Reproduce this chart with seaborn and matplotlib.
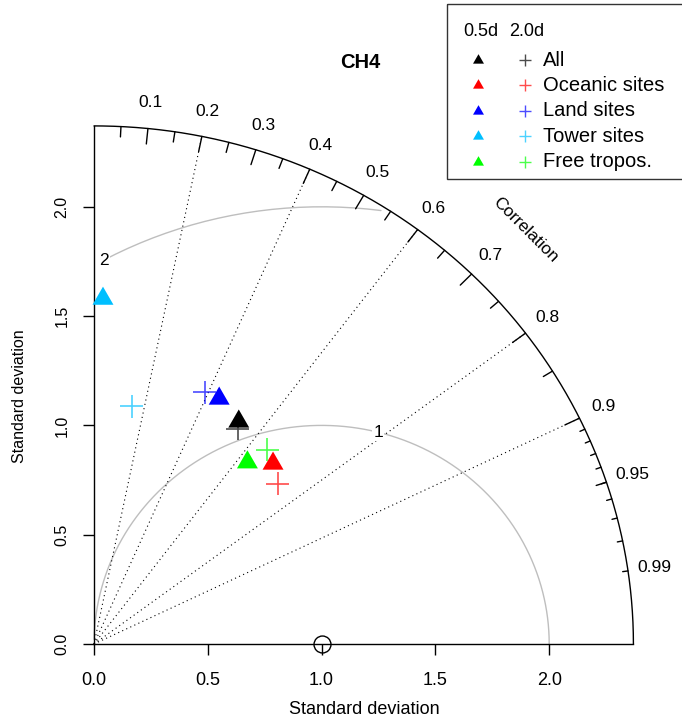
import numpy as np
import pandas as pd
import matplotlib
matplotlib.use("Agg")
import matplotlib.pyplot as plt
from matplotlib.markers import MarkerStyle
from matplotlib.patches import Rectangle
import seaborn as sns

# ---------------- data ----------------
sites = ["All", "Oceanic sites", "Land sites", "Tower sites", "Free tropos."]
site_colors = ["#000000", "#FF0000", "#0000FF", "#00BFFF", "#00FF00"]
sd_05 = [1.20, 1.14, 1.25, 1.58, 1.07]      # normalised std dev, 0.5d
cor_05 = [0.53, 0.69, 0.44, 0.025, 0.63]    # correlation, 0.5d
sd_20 = [1.17, 1.09, 1.25, 1.10, 1.17]      # normalised std dev, 2.0d
cor_20 = [0.54, 0.74, 0.39, 0.15, 0.65]     # correlation, 2.0d
ref_sd = 1.0
max_sd = 2.37
corr_lines = [0.2, 0.4, 0.6, 0.8, 0.9]
corr_labels = [0.1, 0.2, 0.3, 0.4, 0.5, 0.6, 0.7, 0.8, 0.9, 0.95, 0.99]
gamma = [1, 2]
sd_ticks = [0.0, 0.5, 1.0, 1.5, 2.0]
sd_tick_labels = ["0.0", "0.5", "1.0", "1.5", "2.0"]
header = ["0.5d", "2.0d"]

# ---------------- style ----------------
sns.set_theme(style="white", rc={"text.color": "black", "xtick.color": "black",
                                 "ytick.color": "black", "axes.edgecolor": "black"})
plt.rcParams["font.family"] = ["Liberation Sans", "DejaVu Sans"]

W, H = 682, 720
fig = plt.figure(figsize=(W / 100, H / 100), dpi=100)
px0, py0 = 94, 644          # pixel position of data origin
ux, uy = 227.6, 218.6       # pixels per data unit
lim = 2.5
ax = fig.add_axes([px0 / W, (H - py0) / H, lim * ux / W, lim * uy / H])
ax.patch.set_alpha(0)

palette = dict(zip(sites, site_colors))
tri = MarkerStyle([(0, 1), (-0.866, -0.5), (0.866, -0.5), (0, 1)])


def to_xy(sd, cor):
    sd = np.asarray(sd, float)
    cor = np.asarray(cor, float)
    return sd * cor, sd * np.sqrt(1 - cor ** 2)


x05, y05 = to_xy(sd_05, cor_05)
x20, y20 = to_xy(sd_20, cor_20)
df05 = pd.DataFrame({"site": sites, "x": x05, "y": y05})
df20 = pd.DataFrame({"site": sites, "x": x20, "y": y20})

# outer arc
th = np.linspace(0, np.pi / 2, 300)
ax.plot(max_sd * np.cos(th), max_sd * np.sin(th), color="black", lw=1.0, clip_on=False)

# correlation dotted lines
for c in corr_lines:
    ax.plot([0, max_sd * c], [0, max_sd * np.sqrt(1 - c ** 2)], color="black",
            lw=0.8, ls=(0, (1, 3)), clip_on=False)

# arc ticks
def arc_ticks(vals, frac):
    for c in vals:
        s = np.sqrt(1 - c ** 2)
        ax.plot([max_sd * c, frac * max_sd * c], [max_sd * s, frac * max_sd * s],
                color="black", lw=1.0, clip_on=False)

arc_ticks(np.arange(0.1, 0.91, 0.1), 0.97)
arc_ticks(np.arange(0.05, 0.96, 0.1), 0.98)
arc_ticks(np.arange(0.91, 0.995, 0.01), 0.99)

for c in corr_labels:
    ax.text(1.05 * max_sd * c, 1.05 * max_sd * np.sqrt(1 - c ** 2), f"{c:g}",
            ha="center", va="center", fontsize=12.5)
ax.text(0.8 * max_sd, 0.8 * max_sd, "Correlation", rotation=-45,
        ha="center", va="center", fontsize=12.5)

# RMS (gamma) arcs around the reference point
labelpos = [44, 69]
for gi, g in enumerate(gamma):
    t = np.arange(0, np.pi, 0.03)
    xc = np.cos(t) * g + ref_sd
    yc = np.sin(t) * g
    neg = np.where(xc < 0)[0]
    end = neg.min() - 1 if len(neg) else len(t) - 1
    outside = np.where(xc ** 2 + yc ** 2 > max_sd ** 2)[0]
    start = outside.max() + 1 if len(outside) else 0
    ax.plot(xc[start:end + 1], yc[start:end + 1], color="#BEBEBE", lw=1.0,
            clip_on=False, zorder=1.5)
    lp = labelpos[gi]
    ax.text(xc[lp], yc[lp], str(g), ha="center", va="center", fontsize=12.5,
            zorder=2, bbox=dict(facecolor="white", edgecolor="none", pad=1.0))

# reference point
ax.plot([ref_sd], [0], marker="o", mfc="none", mec="black", ms=12.2, mew=1.0,
        ls="none", clip_on=False, zorder=6)

# data markers
sns.scatterplot(data=df05, x="x", y="y", hue="site", palette=palette, marker=tri,
                s=303, linewidth=0, legend=False, ax=ax, zorder=4, clip_on=False)
sns.scatterplot(data=df20, x="x", y="y", hue="site", palette=palette, marker="+",
                s=276, linewidth=1.2, alpha=0.7, legend=False, ax=ax, zorder=5,
                clip_on=False)

ax.set_xlim(0, lim)
ax.set_ylim(0, lim)
ax.set_xlabel("")
ax.set_ylabel("")

# axes lines and ticks
for side in ["top", "right"]:
    ax.spines[side].set_visible(False)
for side in ["left", "bottom"]:
    ax.spines[side].set_bounds(0, max_sd)
    ax.spines[side].set_color("black")
    ax.spines[side].set_linewidth(1.0)
ax.set_xticks(sd_ticks, sd_tick_labels)
ax.set_yticks(sd_ticks, sd_tick_labels)
ax.tick_params(axis="x", bottom=True, direction="out", length=8, width=1.0,
               pad=12, labelsize=13, colors="black")
ax.tick_params(axis="y", left=True, direction="out", length=8, width=1.0,
               pad=9.5, labelsize=11.5, labelrotation=90, colors="black")
for lab in ax.get_yticklabels():
    lab.set_va("center")

# axis titles and main title
fig.text(364 / W, 1 - 710 / H, "Standard deviation", ha="center", va="center", fontsize=13)
fig.text(20 / W, 1 - 396 / H, "Standard deviation", ha="center", va="center",
         fontsize=11.5, rotation=90)
fig.text(360 / W, 1 - 62 / H, "CH4", ha="center", va="center", fontsize=14.5,
         fontweight="bold")

# legend
lax = fig.add_axes([0, 0, 1, 1])
lax.set_xlim(0, W)
lax.set_ylim(H, 0)
lax.axis("off")
lax.add_patch(Rectangle((447, 4), 250, 175, fill=False, edgecolor="#333333", lw=1.0))
lax.text(463, 32, header[0], fontsize=13, va="center", ha="left")
lax.text(509, 32, header[1], fontsize=13, va="center", ha="left")
for i, (name, col) in enumerate(zip(sites, site_colors)):
    yy = 60 + i * 25.4
    lax.plot([478], [yy], marker=tri, ms=9.1, color=col, ls="none", mew=0)
    lax.plot([525], [yy], marker="+", ms=9.0, color=col, ls="none", mew=1.0, alpha=0.7)
    lax.text(543, yy, name, fontsize=14.5, va="center", ha="left")

fig.savefig("out.png", dpi=100)
